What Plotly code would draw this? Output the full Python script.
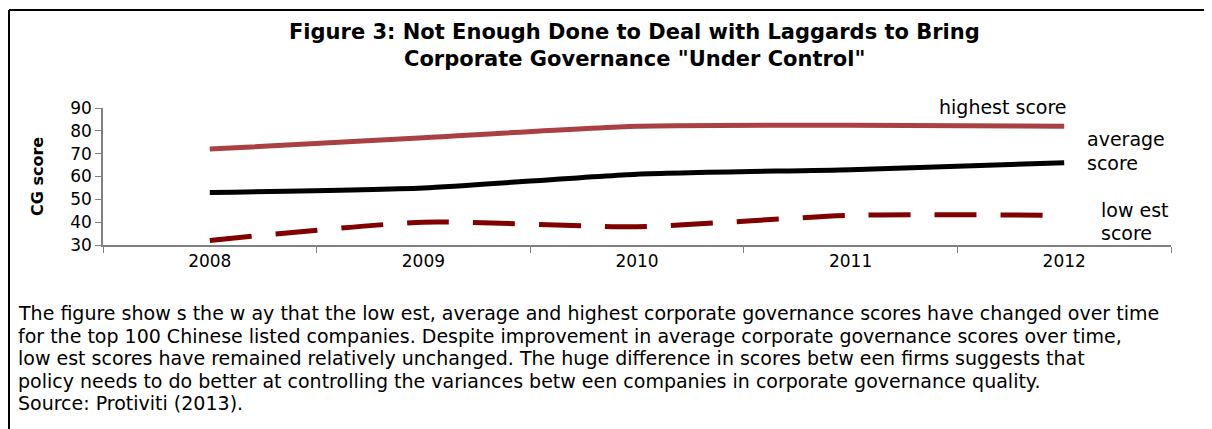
import plotly.graph_objects as go

years = ["2008", "2009", "2010", "2011", "2012"]
highest = [72, 77, 82, 82.5, 82]
average = [53, 55, 61, 63, 66]
lowest = [32, 40, 38, 43, 43]

title_lines = ["Figure 3: Not Enough Done to Deal with Laggards to Bring",
               "Corporate Governance \"Under Control\""]
caption_lines = [
    "The figure show s the w ay that the low est, average and highest corporate governance scores have changed over time",
    "for the top 100 Chinese listed companies. Despite improvement in average corporate governance scores over time,",
    "low est scores have remained relatively unchanged. The huge difference in scores betw een firms suggests that",
    "policy needs to do better at controlling the variances betw een companies in corporate governance quality.",
    "Source: Protiviti (2013).",
]

OFF = 8  # page body margin
W, H = 1212 - OFF, 429 - OFF
L, R, T, B = 103 - OFF, 41, 108 - OFF, 184
PW, PH = W - L - R, H - T - B

def px(x):
    return (x - OFF - L) / PW

def py(y):
    return (H - B - (y - OFF)) / PH

FONT = "DejaVu Sans, Verdana, sans-serif"

fig = go.Figure()
fig.add_trace(go.Scatter(x=years, y=highest, mode="lines", name="highest score",
                         line=dict(color="#A94043", width=5, shape="spline", smoothing=0.6)))
fig.add_trace(go.Scatter(x=years, y=average, mode="lines", name="average score",
                         line=dict(color="#000000", width=5, shape="spline", smoothing=0.6)))
fig.add_trace(go.Scatter(x=years, y=lowest, mode="lines", name="lowest score",
                         line=dict(color="#800000", width=5, dash="42px,24px", shape="spline", smoothing=0.6)))

anns = []
for i, t in enumerate(title_lines):
    anns.append(dict(text="<b>%s</b>" % t, x=px(634), y=py(32 + 27 * i), xref="paper", yref="paper",
                     xanchor="center", yanchor="middle", showarrow=False,
                     font=dict(family=FONT, size=21, color="#000")))
for i, t in enumerate(caption_lines):
    anns.append(dict(text=t, x=px(16), y=py(313 + 22.6 * i), xref="paper", yref="paper",
                     xanchor="left", yanchor="middle", showarrow=False,
                     font=dict(family=FONT, size=19, color="#000")))
labels = [("highest score", 937, 107), ("average", 1085, 139), ("score", 1085, 163),
          ("low est", 1099, 210), ("score", 1099, 233)]
for t, x, y in labels:
    anns.append(dict(text=t, x=px(x), y=py(y), xref="paper", yref="paper",
                     xanchor="left", yanchor="middle", showarrow=False,
                     font=dict(family=FONT, size=19, color="#000")))
anns.append(dict(text="<b>CG score</b>", x=px(37), y=py(177), xref="paper", yref="paper",
                 xanchor="center", yanchor="middle", textangle=-90, showarrow=False,
                 font=dict(family=FONT, size=16, color="#000")))

shapes = [
    dict(type="line", xref="paper", yref="paper", x0=px(9), x1=px(1212), y0=py(10), y1=py(10),
         line=dict(color="#000", width=2)),
    dict(type="line", xref="paper", yref="paper", x0=px(9), x1=px(9), y0=py(10), y1=py(429),
         line=dict(color="#000", width=2)),
]

fig.update_layout(
    width=W, height=H,
    margin=dict(l=L, r=R, t=T, b=B),
    paper_bgcolor="white", plot_bgcolor="white",
    showlegend=False,
    annotations=anns, shapes=shapes,
    font=dict(family=FONT, size=17, color="#000"),
)
fig.update_xaxes(type="category", range=[-0.5, 4.5], showline=True, linecolor="#808080", linewidth=1.5,
                 ticks="outside", ticklen=6, tickcolor="#808080", tickson="boundaries",
                 showgrid=False, zeroline=False, tickfont=dict(family=FONT, size=17, color="#000"))
fig.update_yaxes(range=[30, 90], dtick=10, showline=True, linecolor="#808080", linewidth=1.5,
                 ticks="outside", ticklen=6, tickcolor="#808080", showgrid=False, zeroline=False,
                 tickfont=dict(family=FONT, size=17, color="#000"))

fig.write_html("out.html")
